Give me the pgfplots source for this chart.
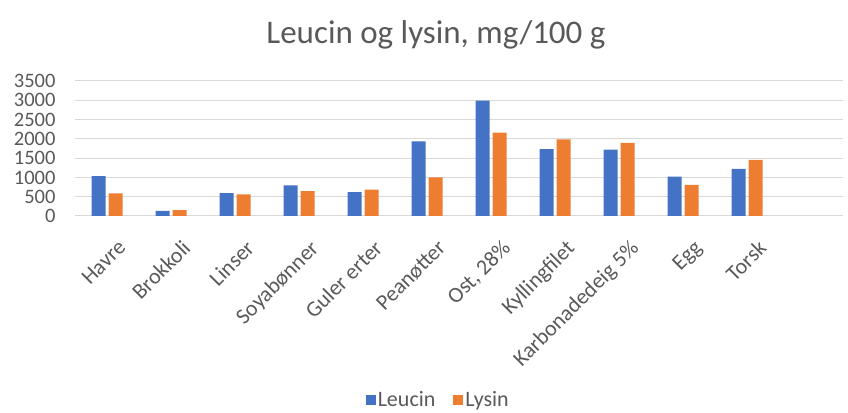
\documentclass[border=0pt]{standalone}
\usepackage{fontspec}
\setmainfont{Carlito}
\usepackage{pgfplots}
\pgfplotsset{compat=1.18}
\definecolor{cblue}{HTML}{4472C4}
\definecolor{corange}{HTML}{ED7D31}
\definecolor{ctext}{HTML}{595959}
\definecolor{cgrid}{HTML}{D9D9D9}
\begin{document}
\begin{tikzpicture}
\path[use as bounding box] (0,0) rectangle (848pt,412pt);
\begin{axis}[
  at={(75pt,196pt)}, anchor=south west,
  scale only axis, width=768pt, height=135pt,
  ybar=3pt, bar width=14pt,
  xmin=-0.5, xmax=11.5, ymin=0, ymax=3500,
  ytick={0,500,...,3500},
  xtick={0,...,10},
  xticklabels={Havre,Brokkoli,Linser,Soyabønner,Guler erter,Peanøtter,{Ost, 28\%},Kyllingfilet,Karbonadedeig 5\%,Egg,Torsk},
  xticklabel style={rotate=45, anchor=north east, font=\fontsize{22}{24}\selectfont, text=ctext, inner sep=1pt, xshift=-5pt, yshift=-19pt},
  yticklabel style={font=\fontsize{20.5}{22}\selectfont, text=ctext, xshift=-16pt},
  /pgf/number format/assume math mode=true,
  /pgf/number format/1000 sep={},
  ymajorgrids, major grid style={cgrid, line width=1pt},
  axis line style={draw=none}, tick style={draw=none},
  title={Leucin og lysin, mg/100 g},
  title style={font=\fontsize{33}{36}\selectfont, text=ctext, at={(0.47,1)}, yshift=22pt},
  legend style={at={(0.473,-1.363)}, anchor=center, draw=none, fill=none, legend columns=2,
    font=\fontsize{22}{24}\selectfont, text=ctext, /tikz/every even column/.append style={column sep=16pt}},
  legend image code/.code={\fill[#1, draw=none] (0pt,-5pt) rectangle (10pt,5pt);},
]
\addplot[fill=cblue, draw=none] coordinates {(0,1035) (1,130) (2,590) (3,795) (4,622) (5,1935) (6,2990) (7,1737) (8,1720) (9,1019) (10,1219)};
\addplot[fill=corange, draw=none] coordinates {(0,588) (1,150) (2,560) (3,648) (4,683) (5,1002) (6,2160) (7,1988) (8,1893) (9,804) (10,1452)};
\legend{Leucin,Lysin}
\end{axis}
\end{tikzpicture}
\end{document}
